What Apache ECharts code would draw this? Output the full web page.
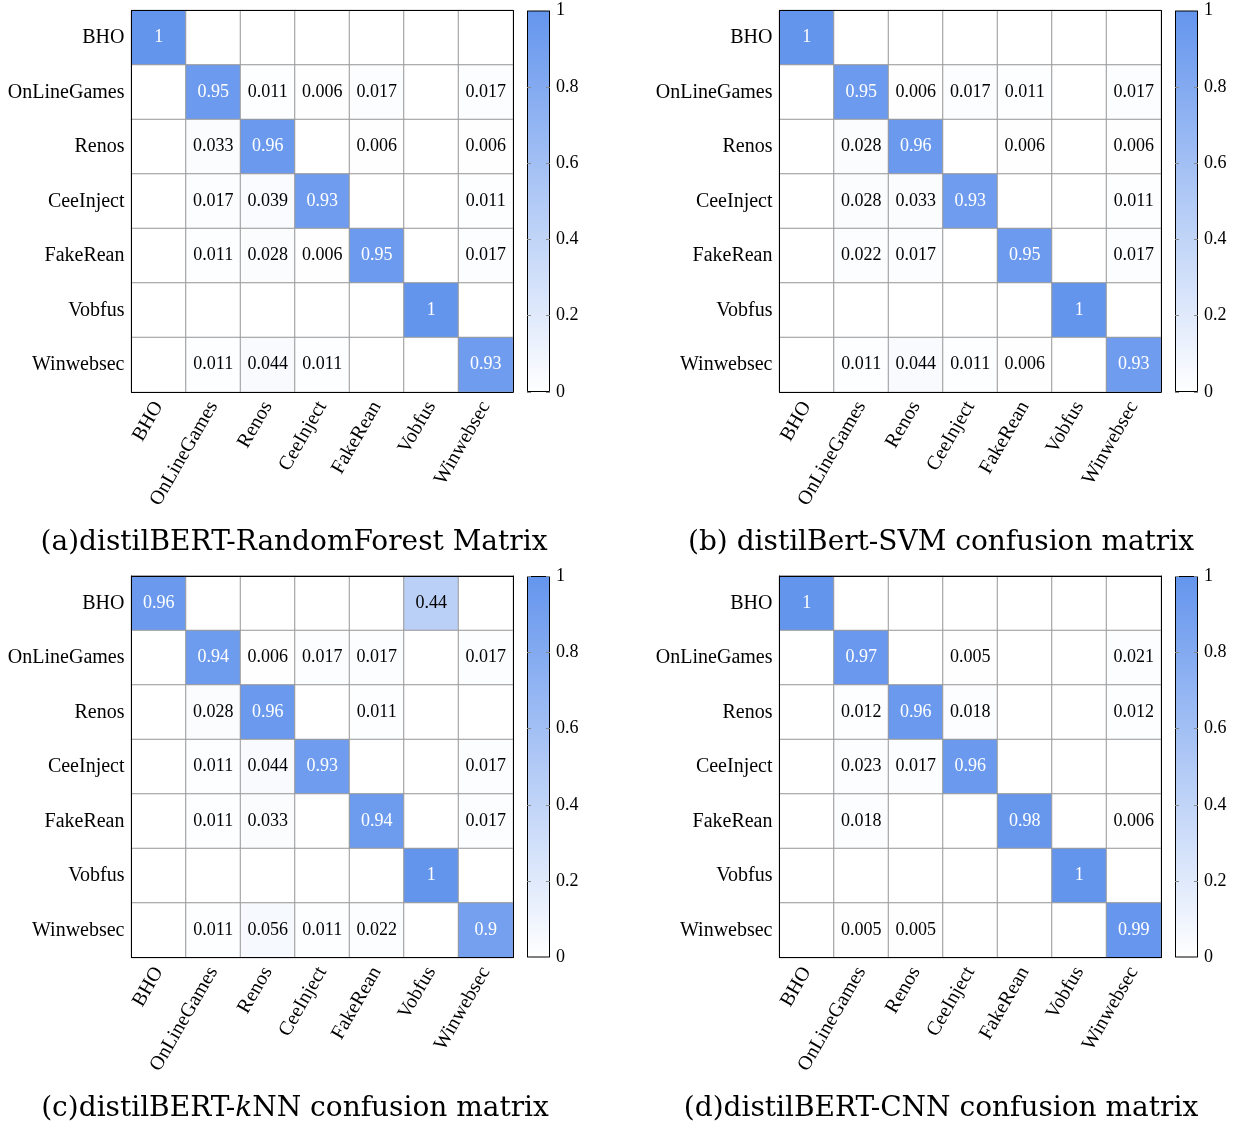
<!DOCTYPE html>
<html lang="en">
<head>
    <meta charset="UTF-8">
    <title>distilBERT confusion matrices</title>
    <script src="https://cdn.jsdelivr.net/npm/echarts@6/dist/echarts.min.js"></script>
    <style>
        html, body { margin: 0; padding: 0; background: #fff; }
        #fig { width: 1244px; height: 1126px; }
    </style>
</head>
<body>
<div id="fig"></div>
<script>
    // class names (rows = actual, cols = predicted)
    const classes = ['BHO', 'OnLineGames', 'Renos', 'CeeInject', 'FakeRean', 'Vobfus', 'Winwebsec'];

    const matrixRF = [
        [1, 0, 0, 0, 0, 0, 0],
        [0, 0.95, 0.011, 0.006, 0.017, 0, 0.017],
        [0, 0.033, 0.96, 0, 0.006, 0, 0.006],
        [0, 0.017, 0.039, 0.93, 0, 0, 0.011],
        [0, 0.011, 0.028, 0.006, 0.95, 0, 0.017],
        [0, 0, 0, 0, 0, 1, 0],
        [0, 0.011, 0.044, 0.011, 0, 0, 0.93]
    ];
    const matrixSVM = [
        [1, 0, 0, 0, 0, 0, 0],
        [0, 0.95, 0.006, 0.017, 0.011, 0, 0.017],
        [0, 0.028, 0.96, 0, 0.006, 0, 0.006],
        [0, 0.028, 0.033, 0.93, 0, 0, 0.011],
        [0, 0.022, 0.017, 0, 0.95, 0, 0.017],
        [0, 0, 0, 0, 0, 1, 0],
        [0, 0.011, 0.044, 0.011, 0.006, 0, 0.93]
    ];
    const matrixKNN = [
        [0.96, 0, 0, 0, 0, 0.44, 0],
        [0, 0.94, 0.006, 0.017, 0.017, 0, 0.017],
        [0, 0.028, 0.96, 0, 0.011, 0, 0],
        [0, 0.011, 0.044, 0.93, 0, 0, 0.017],
        [0, 0.011, 0.033, 0, 0.94, 0, 0.017],
        [0, 0, 0, 0, 0, 1, 0],
        [0, 0.011, 0.056, 0.011, 0.022, 0, 0.9]
    ];
    const matrixCNN = [
        [1, 0, 0, 0, 0, 0, 0],
        [0, 0.97, 0, 0.005, 0, 0, 0.021],
        [0, 0.012, 0.96, 0.018, 0, 0, 0.012],
        [0, 0.023, 0.017, 0.96, 0, 0, 0],
        [0, 0.018, 0, 0, 0.98, 0, 0.006],
        [0, 0, 0, 0, 0, 1, 0],
        [0, 0.005, 0.005, 0, 0, 0, 0.99]
    ];

    const titles = [
        '(a)distilBERT-RandomForest Matrix',
        '(b) distilBert-SVM confusion matrix',
        '(c)distilBERT-{i|k}NN confusion matrix',
        '(d)distilBERT-CNN confusion matrix'
    ];

    const FONT = 'Liberation Serif';
    const TITLE_FONT = 'DejaVu Serif';
    const BLUE = '#6495ed';

    // layout of the four panels
    const layout = [
        {left: 131.5, top: 10.5, tx: 294, ty: 543},
        {left: 779.5, top: 10.5, tx: 941, ty: 543},
        {left: 131.5, top: 576, tx: 295, ty: 1109},
        {left: 779.5, top: 576, tx: 941, ty: 1109}
    ];
    const SIZE = 381.5;

    function toCells (m) {
        let out = [];
        for (let r = 0; r < m.length; r++) {
            for (let c = 0; c < m[r].length; c++) {
                let v = m[r][c];
                out.push({
                    value: [c, r, v],
                    label: {color: v > 0.5 ? '#ffffff' : '#000000'}
                });
            }
        }
        return out;
    }

    const matrices = [matrixRF, matrixSVM, matrixKNN, matrixCNN];

    let option = {
        animation: false,
        backgroundColor: '#fff',
        textStyle: {fontFamily: FONT},
        grid: [], xAxis: [], yAxis: [], series: [], visualMap: [], graphic: []
    };

    let barSeries = [];
    matrices.forEach(function (m, p) {
        let L = layout[p];
        // heatmap grid + colorbar grid
        option.grid.push({left: L.left, top: L.top, width: SIZE, height: SIZE});
        option.grid.push({left: L.left + SIZE + 14, top: L.top, width: 23, height: SIZE});

        let g = 2 * p;
        option.xAxis.push({
            type: 'category', gridIndex: g, data: classes, position: 'bottom', z: 10,
            axisLine: {show: true, lineStyle: {color: '#000', width: 1}},
            axisTick: {show: false}, splitLine: {show: false},
            axisLabel: {rotate: 60, margin: 11, fontSize: 20, color: '#000', fontFamily: FONT}
        });
        option.xAxis.push({
            type: 'category', gridIndex: g, data: classes, position: 'top', z: 10,
            axisLine: {show: true, lineStyle: {color: '#000', width: 1}},
            axisTick: {show: false}, axisLabel: {show: false}, splitLine: {show: false}
        });
        option.xAxis.push({
            type: 'category', gridIndex: g + 1, data: ['c'], show: false
        });

        option.yAxis.push({
            type: 'category', gridIndex: g, data: classes, inverse: true, position: 'left', z: 10,
            axisLine: {show: true, lineStyle: {color: '#000', width: 1}},
            axisTick: {show: false}, splitLine: {show: false},
            axisLabel: {margin: 7, fontSize: 20, color: '#000', fontFamily: FONT}
        });
        option.yAxis.push({
            type: 'category', gridIndex: g, data: classes, inverse: true, position: 'right', z: 10,
            axisLine: {show: true, lineStyle: {color: '#000', width: 1}},
            axisTick: {show: false}, axisLabel: {show: false}, splitLine: {show: false}
        });
        option.yAxis.push({
            type: 'value', gridIndex: g + 1, min: 0, max: 1, interval: 0.2, position: 'right', z: 10,
            axisLine: {show: false}, splitLine: {show: false},
            axisTick: {show: true, inside: true, length: 4, lineStyle: {color: '#888'}},
            axisLabel: {margin: 6, fontSize: 18, color: '#000', fontFamily: FONT}
        });
        option.yAxis.push({
            type: 'value', gridIndex: g + 1, min: 0, max: 1, interval: 0.2, position: 'left', z: 10,
            axisLine: {show: false}, splitLine: {show: false},
            axisTick: {show: true, inside: true, length: 4, lineStyle: {color: '#888'}},
            axisLabel: {show: false}
        });

        option.series.push({
            type: 'heatmap',
            xAxisIndex: 3 * p, yAxisIndex: 4 * p,
            data: toCells(m),
            itemStyle: {borderColor: '#999', borderWidth: 1},
            emphasis: {disabled: true},
            label: {
                show: true, fontSize: 18, fontFamily: FONT,
                formatter: function (prm) {
                    let v = prm.value[2];
                    return v === 0 ? '' : String(v);
                }
            }
        });

        barSeries.push({
            type: 'bar',
            xAxisIndex: 3 * p + 2, yAxisIndex: 4 * p + 2,
            data: [1], barWidth: '100%', silent: true,
            itemStyle: {
                borderColor: '#000', borderWidth: 1,
                color: new echarts.graphic.LinearGradient(0, 0, 0, 1, [
                    {offset: 0, color: BLUE}, {offset: 1, color: '#ffffff'}
                ])
            }
        });

        option.visualMap.push({
            show: false, type: 'continuous', min: 0, max: 1, seriesIndex: p,
            inRange: {color: ['#ffffff', BLUE]}
        });

        option.graphic.push({
            type: 'text', x: L.tx, y: L.ty,
            style: {
                text: titles[p], fontSize: 28, fontFamily: TITLE_FONT, fill: '#000',
                textAlign: 'center', textVerticalAlign: 'middle',
                rich: {i: {fontStyle: 'italic', fontSize: 28, fontFamily: TITLE_FONT}}
            }
        });
    });
    option.series = option.series.concat(barSeries);

    let fig = echarts.init(document.getElementById('fig'), null, {renderer: 'canvas'});
    fig.setOption(option);
</script>
</body>
</html>
